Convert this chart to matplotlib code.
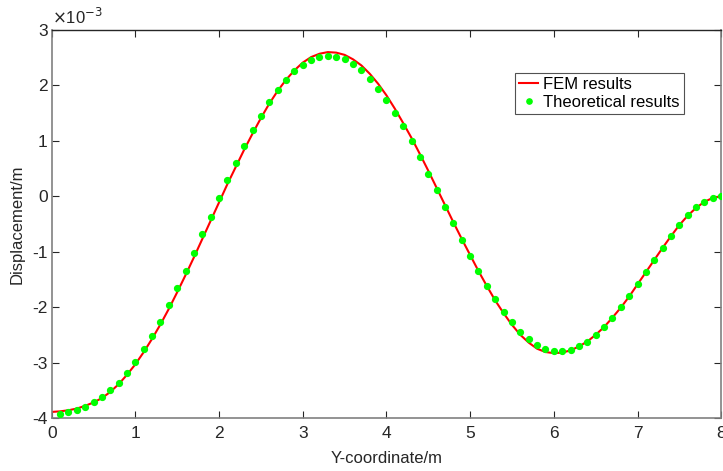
import numpy as np
import matplotlib
matplotlib.use("Agg")
import matplotlib.pyplot as plt
from matplotlib.ticker import FuncFormatter

plt.rcParams['font.family'] = ['Liberation Sans', 'DejaVu Sans']
plt.rcParams['axes.unicode_minus'] = False

# Y-coordinate (m)
x_fem = [round(0.1 * i, 1) for i in range(0, 81)]
x_theory = [round(0.1 * i, 1) for i in range(1, 81)]

# Displacement values in units of 1e-3 m
fem_disp_e3 = [
    -3.89, -3.88, -3.86, -3.83, -3.78, -3.72, -3.64, -3.53, -3.39, -3.22,
    -3.03, -2.81, -2.57, -2.31, -2.03, -1.73, -1.42, -1.10, -0.77, -0.44,
    -0.11, 0.22, 0.53, 0.84, 1.13, 1.41, 1.67, 1.90, 2.10, 2.27,
    2.41, 2.51, 2.57, 2.60, 2.59, 2.55, 2.47, 2.36, 2.21, 2.03,
    1.82, 1.58, 1.32, 1.05, 0.76, 0.46, 0.15, -0.16, -0.47, -0.77,
    -1.06, -1.35, -1.62, -1.88, -2.11, -2.32, -2.50, -2.64, -2.75, -2.81,
    -2.83, -2.82, -2.78, -2.71, -2.62, -2.50, -2.36, -2.19, -2.01, -1.81,
    -1.59, -1.37, -1.15, -0.93, -0.72, -0.52, -0.35, -0.21, -0.10, -0.03,
    0.00,
]
theory_disp_e3 = [
    -3.93, -3.90, -3.86, -3.80, -3.72, -3.63, -3.50, -3.36, -3.18, -2.99,
    -2.76, -2.52, -2.26, -1.96, -1.66, -1.35, -1.02, -0.69, -0.37, -0.03,
    0.29, 0.60, 0.90, 1.19, 1.45, 1.70, 1.91, 2.09, 2.25, 2.37,
    2.46, 2.52, 2.53, 2.52, 2.47, 2.39, 2.27, 2.12, 1.94, 1.73,
    1.51, 1.26, 0.99, 0.71, 0.41, 0.11, -0.19, -0.49, -0.79, -1.08,
    -1.35, -1.62, -1.86, -2.08, -2.27, -2.44, -2.57, -2.68, -2.75, -2.80,
    -2.80, -2.77, -2.71, -2.62, -2.50, -2.36, -2.19, -2.00, -1.80, -1.59,
    -1.36, -1.15, -0.93, -0.72, -0.52, -0.34, -0.20, -0.10, -0.03, 0.00,
]

x_ticks = [0, 1, 2, 3, 4, 5, 6, 7, 8]
y_ticks = [-4, -3, -2, -1, 0, 1, 2, 3]

fig = plt.figure(figsize=(7.23, 4.71), dpi=100)
ax = fig.add_axes([0.0715, 0.1125, 0.926, 0.824])

ax.plot(x_fem, fem_disp_e3, color='#ff0000', lw=1.5, label='FEM results', zorder=2)
ax.plot(x_theory, theory_disp_e3, ls='none', marker='o', ms=4.2, color='#00ff00',
        mec='#00ff00', label='Theoretical results', zorder=3)

ax.set_xlim(0, 8)
ax.set_ylim(-4, 3)
ax.set_xticks(x_ticks)
ax.set_yticks(y_ticks)
fmt = FuncFormatter(lambda v, p: f"{v:g}")
ax.xaxis.set_major_formatter(fmt)
ax.yaxis.set_major_formatter(fmt)
ax.tick_params(direction='in', length=5, width=0.8, labelsize=12.5, colors='0.15',
               top=True, right=True)
ax.tick_params(axis='x', pad=6)
ax.tick_params(axis='y', pad=3)
for s in ['left', 'bottom', 'right']:
    ax.spines[s].set_color('0.5')
    ax.spines[s].set_linewidth(1.2)
ax.spines['top'].set_color('0.15')
ax.spines['top'].set_linewidth(1.0)

ax.set_xlabel('Y-coordinate/m', fontsize=12, color='0.15', labelpad=7)
ax.set_ylabel('Displacement/m', fontsize=12, color='0.15', labelpad=5)

ax.text(0.0, 1.008, r'$\times$10$^{-3}$', transform=ax.transAxes, fontsize=12,
        color='0.15', ha='left', va='bottom')

leg = ax.legend(loc='upper right', bbox_to_anchor=(0.9445, 0.89), fontsize=12,
                frameon=True, fancybox=False, edgecolor='0.15', handlelength=1.15,
                handletextpad=0.3, borderpad=0.25, labelspacing=0.2,
                borderaxespad=0.0, markerscale=0.9)
leg.get_frame().set_linewidth(0.8)

fig.savefig('out.png', dpi=100)
